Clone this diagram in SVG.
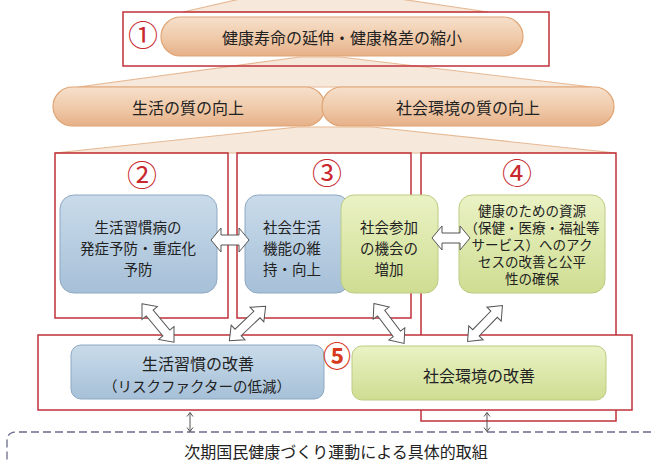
<svg xmlns="http://www.w3.org/2000/svg" width="651" height="462" viewBox="0 0 651 462">
<defs>
<linearGradient id="peach" x1="0" y1="0" x2="0" y2="1">
<stop offset="0" stop-color="#f6e0cc"/>
<stop offset="0.55" stop-color="#efc9a8"/>
<stop offset="1" stop-color="#e6b088"/>
</linearGradient>
<linearGradient id="blue" x1="0" y1="0" x2="0" y2="1">
<stop offset="0" stop-color="#c9dbea"/>
<stop offset="1" stop-color="#a6c0d8"/>
</linearGradient>
<linearGradient id="green" x1="0" y1="0" x2="0" y2="1">
<stop offset="0" stop-color="#eaf2c4"/>
<stop offset="1" stop-color="#cfdd92"/>
</linearGradient>
<path id="dblH" d="M-19,0 L-9,-12 L-9,-5 L9,-5 L9,-12 L19,0 L9,12 L9,5 L-9,5 L-9,12 Z"/>
<path id="dblD" d="M-25,0 L-13,-10 L-13,-4.5 L13,-4.5 L13,-10 L25,0 L13,10 L13,4.5 L-13,4.5 L-13,10 Z"/>
<path id="thinV" d="M0,0 L0,19 M-3,4 L0,0 L3,4 M-3,15 L0,19 L3,15"/>
</defs>
<style>
.t{font-family:"Noto Sans CJK JP","Noto Sans",sans-serif;fill:#222;text-anchor:middle;dominant-baseline:central}
.t16{font-size:16px}
.t15{font-size:14.5px}
.t14{font-size:13.5px}
.num{font-family:"Noto Sans CJK JP","DejaVu Sans",sans-serif;font-size:30px;fill:#c8282e;text-anchor:middle;dominant-baseline:central}
.red{fill:none;stroke:#c0303a;stroke-width:1.5}
.redw{fill:#fff;stroke:#c0303a;stroke-width:1.5}
.pill{fill:url(#peach);stroke:#e0a474;stroke-width:1.2}
.trap{fill:#f6e8db;stroke:#e6b994;stroke-width:1.2}
.bbox{fill:url(#blue);stroke:#8ea8c2;stroke-width:1}
.gbox{fill:url(#green);stroke:#bccb83;stroke-width:1}
.arr{fill:#fff;stroke:#555;stroke-width:1}
.thin{stroke:#555;stroke-width:1;fill:none}
</style>
<rect width="651" height="462" fill="#fff"/>

<g id="fans">
<polygon class="trap" points="240,-1 400,-1 488,12 183,12"/>
<polygon class="trap" points="300,57 340,57 592,87 78,87"/>
<polygon class="trap" points="298,127 372,127 616,153 55,153"/>
</g>

<g id="node1">
<rect class="red" x="123" y="12" width="426" height="54"/>
<rect class="pill" x="161" y="17" width="362" height="39" rx="19.5"/>
<text class="t t16" x="342" y="37">健康寿命の延伸・健康格差の縮小</text>
<text class="num" x="143" y="33">①</text>
</g>

<g id="quality-life">
<rect class="pill" x="53" y="87" width="272" height="39" rx="19.5"/>
<text class="t t16" x="188" y="107">生活の質の向上</text>
</g>
<g id="quality-env">
<rect class="pill" x="322" y="87" width="292" height="39" rx="19.5"/>
<text class="t t16" x="468" y="107">社会環境の質の向上</text>
</g>

<g id="group4">
<rect class="red" x="421" y="153" width="195" height="268"/>
<text class="num" x="517" y="171">④</text>
<rect class="gbox" x="459" y="195" width="146" height="98" rx="13"/>
<text class="t t14" x="532" y="210"><tspan x="532" y="210">健康のための資源</tspan><tspan x="532" y="227">（保健・医療・福祉等</tspan><tspan x="532" y="244">サービス）へのアク</tspan><tspan x="532" y="261">セスの改善と公平</tspan><tspan x="532" y="278">性の確保</tspan></text>
</g>

<g id="group2">
<rect class="red" x="55" y="153" width="173" height="165"/>
<text class="num" x="142" y="173">②</text>
<rect class="bbox" x="60" y="195" width="157" height="98" rx="14"/>
<text class="t t15" x="138" y="226">生活習慣病の</text>
<text class="t t15" x="138" y="247">発症予防・重症化</text>
<text class="t t15" x="138" y="268">予防</text>
</g>

<g id="group3">
<rect class="red" x="237" y="153" width="174" height="165"/>
<text class="num" x="327" y="171">③</text>
<rect class="bbox" x="245" y="195" width="104" height="98" rx="13"/>
<text class="t t15" x="292" y="226">社会生活</text>
<text class="t t15" x="292" y="247">機能の維</text>
<text class="t t15" x="292" y="268">持・向上</text>
<rect class="gbox" x="341" y="195" width="97" height="98" rx="13"/>
<text class="t t15" x="389" y="226">社会参加</text>
<text class="t t15" x="389" y="247">の機会の</text>
<text class="t t15" x="389" y="268">増加</text>
</g>

<g id="group5">
<rect class="redw" x="38" y="335" width="594" height="75"/>
<rect class="bbox" x="71" y="345" width="253" height="54" rx="10"/>
<text class="t t16" x="198" y="363">生活習慣の改善</text>
<text class="t t15" x="197" y="385">（リスクファクターの低減）</text>
<rect class="gbox" x="352" y="346" width="254" height="54" rx="10"/>
<text class="t t16" x="479" y="375">社会環境の改善</text>
<text class="num" x="337" y="355" style="fill:#d83a1e;font-weight:bold;font-size:28px">⑤</text>
</g>

<g id="action">
<path d="M651,432 L16,432 Q7,432 7,441 L7,463" fill="none" stroke="#6c6c8c" stroke-width="1.3" stroke-dasharray="8,4"/>
<text class="t t16" x="336" y="451">次期国民健康づくり運動による具体的取組</text>
</g>

<g id="connectors">
<use href="#dblH" class="arr" transform="translate(230,240)"/>
<use href="#dblH" class="arr" transform="translate(451,238)"/>
<use href="#dblD" class="arr" transform="translate(158,323) rotate(50.2)"/>
<use href="#dblD" class="arr" transform="translate(247.5,323.5) rotate(-43.5)"/>
<use href="#dblD" class="arr" transform="translate(389,323.5) rotate(52.9)"/>
<use href="#dblD" class="arr" transform="translate(485,323.5) rotate(-45.8)"/>
<use href="#thinV" class="thin" transform="translate(190,412.5)"/>
<use href="#thinV" class="thin" transform="translate(487,412.5)"/>
</g>
</svg>
